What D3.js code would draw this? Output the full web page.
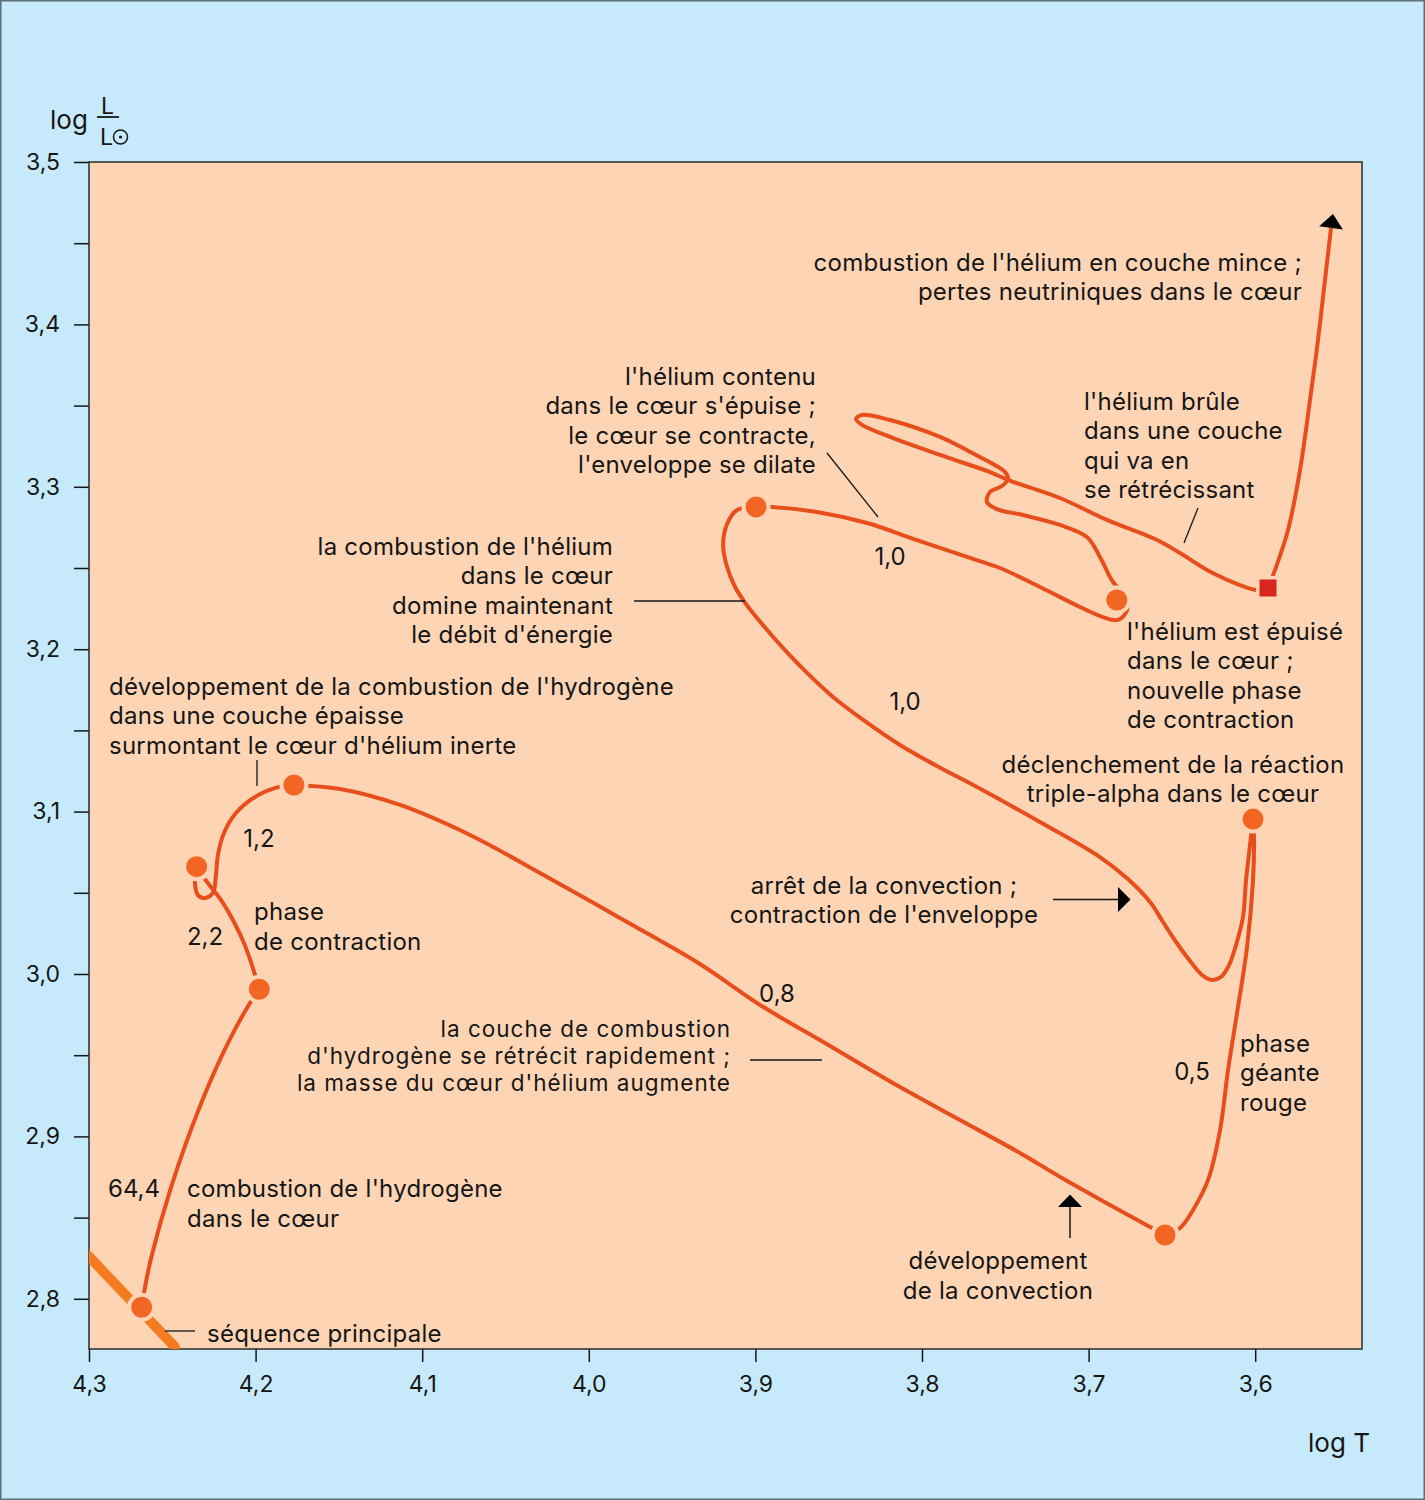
<!DOCTYPE html>
<html><head><meta charset="utf-8">
<script src="https://cdn.jsdelivr.net/npm/d3@7"></script>
<style>
html,body{margin:0;padding:0;background:#c6eafb;}
svg{display:block;}
text{font-family:Inter,"Open Sans",sans-serif;fill:#161616;}
</style></head><body>
<svg id="chart" width="1425" height="1500"></svg>
<script>
// ---------------- DATA ----------------
const xTicks = [4.3, 4.2, 4.1, 4.0, 3.9, 3.8, 3.7, 3.6];
const xTickLabels = ["4,3", "4,2", "4,1", "4,0", "3,9", "3,8", "3,7", "3,6"];
const yTicks = [2.8, 2.85, 2.9, 2.95, 3.0, 3.05, 3.1, 3.15, 3.2, 3.25, 3.3, 3.35, 3.4, 3.45, 3.5];
const yTickLabels = ["2,8", "", "2,9", "", "3,0", "", "3,1", "", "3,2", "", "3,3", "", "3,4", "", "3,5"];

// main sequence band [log T, log L/Lsun]
const mainSequence = [[4.312, 2.839], [4.2484, 2.7703]];

// evolutionary track, stage by stage [log T, log L/Lsun]
const trackHydrogenCore = [[4.2684, 2.7948], [4.2670, 2.8036], [4.2630, 2.8239], [4.2509, 2.8682], [4.2319, 2.9224], [4.2166, 2.9575], [4.2034, 2.9821], [4.1978, 2.9906]];
const trackContraction = [[4.1978, 2.9906], [4.2022, 3.0055], [4.2070, 3.0191], [4.2130, 3.0320], [4.2208, 3.0456], [4.2292, 3.0567], [4.2354, 3.0661]];
const trackShellIgnition = [[4.2354, 3.0661], [4.2364, 3.0560], [4.2346, 3.0486], [4.2304, 3.0468], [4.2256, 3.0499], [4.2238, 3.0610], [4.2226, 3.0733], [4.2190, 3.0868], [4.2118, 3.0991], [4.2004, 3.1090], [4.1866, 3.1151], [4.1770, 3.1164]];
const trackShellNarrowing = [[4.1770, 3.1164], [4.1493, 3.1139], [4.1133, 3.1041], [4.0713, 3.0856], [4.0293, 3.0622], [3.9813, 3.0345], [3.9333, 3.0062], [3.8972, 2.9809], [3.8552, 2.9557], [3.8132, 2.9304], [3.7772, 2.9101], [3.7412, 2.8898], [3.7160, 2.8744], [3.6872, 2.8578], [3.6631, 2.8442], [3.6541, 2.8393]];
const trackRedGiant = [[3.6541, 2.8393], [3.6451, 2.8436], [3.6373, 2.8547], [3.6283, 2.8732], [3.6211, 2.9039], [3.6163, 2.9409], [3.6109, 2.9760], [3.6049, 3.0166], [3.6013, 3.0579], [3.6007, 3.0825], [3.6013, 3.0954]];
const trackHeliumCore = [[3.6013, 3.0954], [3.6031, 3.0794], [3.6055, 3.0579], [3.6073, 3.0351], [3.6115, 3.0179], [3.6157, 3.0055], [3.6205, 2.9982], [3.6259, 2.9963], [3.6319, 2.9994], [3.6391, 3.0080], [3.6475, 3.0197], [3.6553, 3.0320], [3.6631, 3.0443], [3.6764, 3.0585], [3.6932, 3.0720], [3.7292, 3.0936], [3.7670, 3.1151], [3.7922, 3.1287], [3.8132, 3.1410], [3.8336, 3.1552], [3.8534, 3.1706], [3.8696, 3.1860], [3.8840, 3.2014], [3.8960, 3.2155], [3.9056, 3.2278], [3.9122, 3.2383], [3.9170, 3.2506], [3.9194, 3.2642], [3.9170, 3.2771], [3.9110, 3.2857], [3.8996, 3.2876]];
const trackHeliumShell = [[3.8996, 3.2876], [3.8900, 3.2876], [3.8630, 3.2845], [3.8330, 3.2777], [3.8030, 3.2672], [3.7730, 3.2568], [3.7532, 3.2500], [3.7292, 3.2383], [3.7052, 3.2260], [3.6914, 3.2198], [3.6824, 3.2180], [3.6769, 3.2241], [3.6788, 3.2334], [3.6854, 3.2414], [3.6932, 3.2568], [3.7010, 3.2691], [3.7172, 3.2765], [3.7394, 3.2826], [3.7550, 3.2863], [3.7610, 3.2906], [3.7592, 3.2968], [3.7520, 3.3005], [3.7484, 3.3048], [3.7502, 3.3091], [3.7574, 3.3140], [3.7652, 3.3183], [3.7892, 3.3307], [3.8192, 3.3411], [3.8360, 3.3442], [3.8396, 3.3417], [3.8360, 3.3381], [3.8192, 3.3307], [3.7892, 3.3196], [3.7592, 3.3091], [3.7484, 3.3042], [3.7172, 3.2931], [3.6890, 3.2796], [3.6589, 3.2672], [3.6451, 3.2592], [3.6289, 3.2488], [3.6091, 3.2395], [3.5989, 3.2365], [3.5923, 3.2377]];
const trackFinal = [[3.5923, 3.2377], [3.5881, 3.2488], [3.5803, 3.2734], [3.5731, 3.3103], [3.5671, 3.3534], [3.5623, 3.3904], [3.5581, 3.4273], [3.5545, 3.4594]];
const trackEnd = [3.5533, 3.4680];

const stagePoints = [[4.2684, 2.7948], [4.1978, 2.9906], [4.2354, 3.0661], [4.1770, 3.1164], [3.6541, 2.8393], [3.6013, 3.0954], [3.8996, 3.2876], [3.6831, 3.2303]];
const heliumExhaustion = [3.5923, 3.2377];

// durations along the track (labels)
const durationLabels = ["1,0", "1,0", "1,2", "2,2", "0,8", "0,5", "64,4"];

// ---------------- LAYOUT ----------------
const W = 1425, H = 1500;
const plot = {left: 89, top: 162, right: 1362, bottom: 1349};
const x = d3.scaleLinear().domain([4.3, 3.6]).range([89, 1255.2]);
const y = d3.scaleLinear().domain([3.5, 2.8]).range([162, 1298.8]);

const C = {bg: "#c6eafb", plot: "#fdd5b5", track: "#e84e1b", dot: "#f26522", band: "#f47b20", square: "#d8261d", ink: "#161616"};
const FS = 24;

const svg = d3.select("#chart");
svg.append("rect").attr("x", 0.75).attr("y", 0.75).attr("width", W - 1.5).attr("height", H - 1.5)
  .attr("fill", C.bg).attr("stroke", "#5b7177").attr("stroke-width", 1.5);

svg.append("defs").append("clipPath").attr("id", "clip").append("rect")
  .attr("x", plot.left).attr("y", plot.top).attr("width", plot.right - plot.left).attr("height", plot.bottom - plot.top);

svg.append("rect").attr("x", plot.left).attr("y", plot.top).attr("width", plot.right - plot.left).attr("height", plot.bottom - plot.top)
  .attr("fill", C.plot);

// axes
const yAxis = d3.axisLeft(y).tickValues(yTicks).tickSize(15).tickPadding(14)
  .tickFormat((d, i) => yTickLabels[i]);
const gy = svg.append("g").attr("transform", `translate(${plot.left},0)`).call(yAxis);
gy.select(".domain").remove();
gy.selectAll("line").attr("stroke", C.ink).attr("stroke-width", 1.5);
gy.selectAll("text").attr("font-size", 23).attr("font-family", "Inter").attr("fill", C.ink);

const xAxis = d3.axisBottom(x).tickValues(xTicks).tickSize(13).tickPadding(14)
  .tickFormat((d, i) => xTickLabels[i]);
const gx = svg.append("g").attr("transform", `translate(0,${plot.bottom})`).call(xAxis);
gx.select(".domain").remove();
gx.selectAll("line").attr("stroke", C.ink).attr("stroke-width", 1.5);
gx.selectAll("text").attr("font-size", 23).attr("font-family", "Inter").attr("fill", C.ink);

// plot border
svg.append("rect").attr("x", plot.left).attr("y", plot.top).attr("width", plot.right - plot.left).attr("height", plot.bottom - plot.top)
  .attr("fill", "none").attr("stroke", "#2a2a2a").attr("stroke-width", 1.5);

// axis titles
svg.append("text").attr("x", 50).attr("y", 129).attr("font-size", 26).text("log");
svg.append("text").attr("x", 101).attr("y", 114).attr("font-size", 23).text("L");
svg.append("line").attr("x1", 97).attr("x2", 119).attr("y1", 117).attr("y2", 117).attr("stroke", C.ink).attr("stroke-width", 1.8);
svg.append("text").attr("x", 100).attr("y", 145).attr("font-size", 23).text("L");
svg.append("circle").attr("cx", 120.5).attr("cy", 137).attr("r", 7).attr("fill", "none").attr("stroke", C.ink).attr("stroke-width", 1.5);
svg.append("circle").attr("cx", 120.5).attr("cy", 137).attr("r", 1.6).attr("fill", C.ink);
svg.append("text").attr("x", 1370).attr("y", 1452).attr("text-anchor", "end").attr("font-size", 26).text("log T");

const gPlot = svg.append("g").attr("clip-path", "url(#clip)");
const line = d3.line().x(d => x(d[0])).y(d => y(d[1])).curve(d3.curveCatmullRom.alpha(0.5));

// main sequence
gPlot.append("path").attr("d", line(mainSequence)).attr("fill", "none")
  .attr("stroke", C.band).attr("stroke-width", 10).attr("stroke-linecap", "round");

// track
[trackHydrogenCore, trackContraction, trackShellIgnition, trackShellNarrowing, trackRedGiant, trackHeliumCore, trackHeliumShell, trackFinal]
  .forEach(seg => gPlot.append("path").attr("d", line(seg)).attr("fill", "none")
    .attr("stroke", C.track).attr("stroke-width", 4).attr("stroke-linecap", "butt").attr("stroke-linejoin", "round"));

// arrow head at end of track
{
  const p0 = trackFinal[trackFinal.length - 1];
  const tx = x(trackEnd[0]), ty = y(trackEnd[1]);
  const ang = Math.atan2(ty - y(p0[1]), tx - x(p0[0]));
  const len = 14, half = 12;
  const bx = tx - len * Math.cos(ang), by = ty - len * Math.sin(ang);
  const nx = -Math.sin(ang), ny = Math.cos(ang);
  svg.append("path").attr("d", `M${tx},${ty}L${bx + half * nx},${by + half * ny}L${bx - half * nx},${by - half * ny}Z`).attr("fill", "#000");
}

// stage points (with halo gaps)
gPlot.selectAll("circle.halo").data(stagePoints).join("circle").attr("class", "halo")
  .attr("cx", d => x(d[0])).attr("cy", d => y(d[1])).attr("r", 14.5).attr("fill", C.plot);
gPlot.selectAll("circle.dot").data(stagePoints).join("circle").attr("class", "dot")
  .attr("cx", d => x(d[0])).attr("cy", d => y(d[1])).attr("r", 10.5).attr("fill", C.dot);
gPlot.append("rect").attr("x", x(heliumExhaustion[0]) - 12).attr("y", y(heliumExhaustion[1]) - 12).attr("width", 24).attr("height", 24).attr("fill", C.plot);
gPlot.append("rect").attr("x", x(heliumExhaustion[0]) - 8.5).attr("y", y(heliumExhaustion[1]) - 8.5).attr("width", 17).attr("height", 17).attr("fill", C.square);

// leader lines
const leaders = [[257, 760, 257, 786], [165, 1331, 195, 1331], [827, 453, 878, 517], [634, 601, 745, 601], [1198, 508, 1184, 543], [750, 1060, 822, 1060]];
leaders.forEach(l => svg.append("line").attr("x1", l[0]).attr("y1", l[1]).attr("x2", l[2]).attr("y2", l[3]).attr("stroke", C.ink).attr("stroke-width", 1.3));

// annotation arrows
svg.append("line").attr("x1", 1053).attr("y1", 899.5).attr("x2", 1119).attr("y2", 899.5).attr("stroke", C.ink).attr("stroke-width", 1.3);
svg.append("path").attr("d", "M1118,887L1130.5,899.5L1118,912Z").attr("fill", "#000");
svg.append("line").attr("x1", 1070).attr("y1", 1238).attr("x2", 1070).attr("y2", 1206).attr("stroke", C.ink).attr("stroke-width", 1.5);
svg.append("path").attr("d", "M1058,1207L1070,1194.5L1082,1207Z").attr("fill", "#000");

// annotations
const notes = [
  {lines: ["combustion de l'hélium en couche mince ;", "pertes neutriniques dans le cœur"], x: 1302, y: 262, a: "end", lh: 29.5},
  {lines: ["l'hélium contenu", "dans le cœur s'épuise ;", "le cœur se contracte,", "l'enveloppe se dilate"], x: 816, y: 376, a: "end", lh: 29.5},
  {lines: ["l'hélium brûle", "dans une couche", "qui va en", "se rétrécissant"], x: 1084, y: 401, a: "start", lh: 29.5},
  {lines: ["la combustion de l'hélium", "dans le cœur", "domine maintenant", "le débit d'énergie"], x: 613, y: 546, a: "end", lh: 29.5},
  {lines: ["l'hélium est épuisé", "dans le cœur ;", "nouvelle phase", "de contraction"], x: 1127, y: 631, a: "start", lh: 29.5},
  {lines: ["développement de la combustion de l'hydrogène", "dans une couche épaisse", "surmontant le cœur d'hélium inerte"], x: 109, y: 686, a: "start", lh: 29.5},
  {lines: ["déclenchement de la réaction", "triple-alpha dans le cœur"], x: 1173, y: 764, a: "middle", lh: 29.5},
  {lines: ["arrêt de la convection ;", "contraction de l'enveloppe"], x: 884, y: 885, a: "middle", lh: 29.5},
  {lines: ["phase", "de contraction"], x: 254, y: 911, a: "start", lh: 30},
  {lines: ["phase", "géante", "rouge"], x: 1240, y: 1043, a: "start", lh: 29.5},
  {lines: ["combustion de l'hydrogène", "dans le cœur"], x: 187, y: 1188, a: "start", lh: 30},
  {lines: ["développement", "de la convection"], x: 998, y: 1260, a: "middle", lh: 30},
  {lines: ["séquence principale"], x: 207, y: 1333, a: "start", lh: 30}
];
notes.forEach(n => {
  const t = svg.append("text").attr("font-size", FS).attr("letter-spacing", 0.25).attr("text-anchor", n.a);
  n.lines.forEach((s, i) => t.append("tspan").attr("x", n.x).attr("y", n.y + 8.5 + i * n.lh).text(s));
});
// tighter block
{
  const lines = ["la couche de combustion", "d'hydrogène se rétrécit rapidement ;", "la masse du cœur d'hélium augmente"];
  const t = svg.append("text").attr("font-size", 22.5).attr("letter-spacing", 1).attr("text-anchor", "end");
  lines.forEach((s, i) => t.append("tspan").attr("x", 731).attr("y", 1029 + 8 + i * 26.8).text(s));
}
const durPos = [[890, 556], [905, 701], [259, 838], [205, 936], [777, 993], [1192, 1071], [134, 1188]];
durationLabels.forEach((s, i) => svg.append("text").attr("x", durPos[i][0]).attr("y", durPos[i][1] + 8.5)
  .attr("font-size", FS).attr("text-anchor", "middle").text(s));
</script>
</body></html>
